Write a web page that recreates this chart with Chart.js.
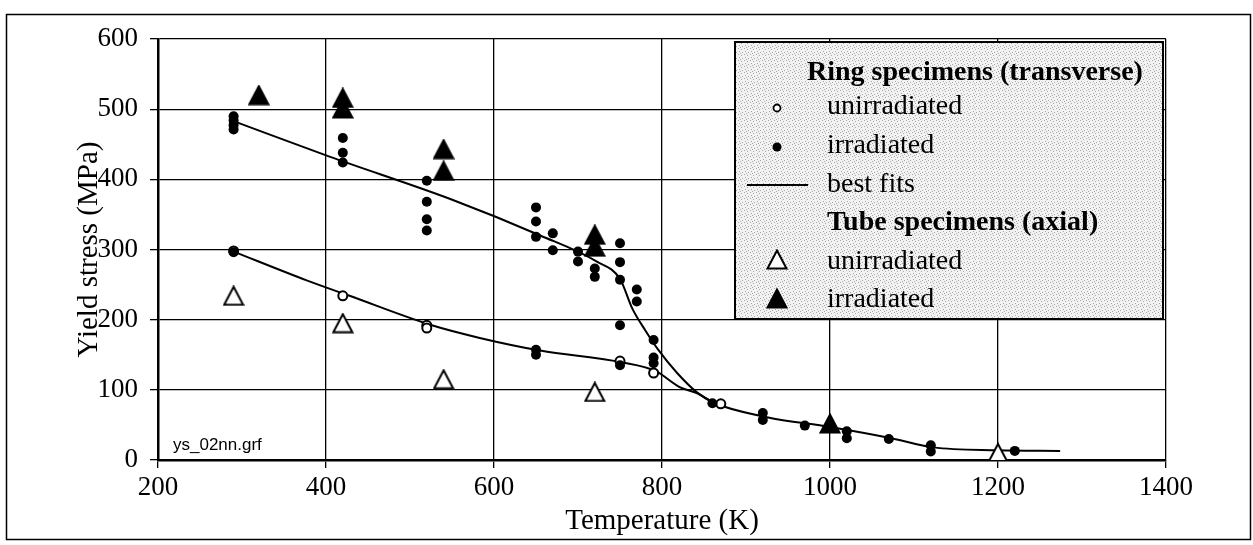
<!DOCTYPE html>
<html>
<head>
<meta charset="utf-8">
<script src="https://cdn.jsdelivr.net/npm/chart.js@4"></script>
<style>
    body { margin: 0; background: #fff; }
    canvas { display: block; }
</style>
</head>
<body>
<canvas id="myChart" width="1253" height="545"></canvas>
<script>
// axis ticks
const xTicks = [200, 400, 600, 800, 1000, 1200, 1400];
const yTicks = [0, 100, 200, 300, 400, 500, 600];

// Ring specimens (transverse), irradiated - filled circles
const ringIrrT = [290, 290, 290, 290, 290, 420, 420, 420, 520, 520, 520, 520,
    650, 650, 650, 650, 650, 670, 670, 700, 700, 720, 720,
    750, 750, 750, 750, 750, 770, 770, 790, 790, 790,
    860, 920, 920, 970, 1020, 1020, 1070, 1120, 1120, 1220];
const ringIrrS = [490, 484, 477, 471, 296, 459, 438, 424, 398, 368, 343, 327,
    360, 340, 318, 157, 150, 323, 299, 297, 283, 273, 261,
    309, 282, 257, 192, 135, 243, 226, 171, 146, 138,
    81, 67, 57, 49, 41, 31, 30, 21, 12, 13];

// Ring specimens, unirradiated - open circles
const ringUnirrT = [290, 420, 520, 520, 750, 790, 870];
const ringUnirrS = [298, 234, 192, 188, 141, 124, 80];

// Tube specimens (axial)
const tubeUnirrT = [290, 420, 540, 720, 1200];
const tubeUnirrS = [234, 195, 115, 97, 10];
const tubeIrrT = [320, 420, 420, 540, 540, 720, 720, 1000];
const tubeIrrS = [520, 516, 501, 443, 412, 321, 304, 52];

// best fits
const fitIrrT = [290, 405, 548, 655, 722, 750, 765, 780, 795, 818, 842, 861, 925, 1000, 1073, 1123, 1200, 1274];
const fitIrrS = [483, 432, 372, 320, 283, 258, 215, 185, 158, 124, 96, 82, 61, 47, 31, 18, 14, 13];
const fitUnirrT = [290, 377, 428, 526, 583, 655, 753, 792, 821, 842, 861];
const fitUnirrS = [297, 256, 234, 192, 174, 156, 139, 127, 104, 95, 82];

const SERIF = "'Liberation Serif', 'Times New Roman', serif";

function toPoints(xs, ys) {
    return xs.map((x, i) => ({ x: x, y: ys[i] }));
}

function makeTriangle(filled) {
    const c = document.createElement('canvas');
    c.width = 22;
    c.height = 21;
    const g = c.getContext('2d');
    g.beginPath();
    g.moveTo(11, 1.5);
    g.lineTo(20.5, 19.5);
    g.lineTo(1.5, 19.5);
    g.closePath();
    g.fillStyle = filled ? '#000' : '#fff';
    g.fill();
    g.lineWidth = 2;
    g.strokeStyle = '#000';
    g.stroke();
    return c;
}

function makeStipple() {
    const c = document.createElement('canvas');
    c.width = 6;
    c.height = 6;
    const g = c.getContext('2d');
    g.fillStyle = '#f2f2f2';
    g.fillRect(0, 0, 6, 6);
    g.fillStyle = '#a8a8a8';
    [[0, 0], [3, 1], [1, 3], [4, 4], [2, 5]].forEach(p => g.fillRect(p[0], p[1], 1, 1));
    return c;
}

const triFilled = makeTriangle(true);
const triOpen = makeTriangle(false);

const decor = {
    id: 'decor',
    beforeDraw(chart) {
        const ctx = chart.ctx;
        ctx.save();
        ctx.fillStyle = '#fff';
        ctx.fillRect(0, 0, chart.width, chart.height);
        ctx.restore();
    },
    afterDraw(chart) {
        const ctx = chart.ctx;
        ctx.save();
        // outer frame
        ctx.strokeStyle = '#000';
        ctx.lineWidth = 1.5;
        ctx.strokeRect(6.5, 14.5, 1244, 525);

        // file name
        ctx.fillStyle = '#000';
        ctx.font = "17px 'Liberation Sans', Arial, sans-serif";
        ctx.textBaseline = 'middle';
        ctx.textAlign = 'left';
        ctx.fillText('ys_02nn.grf', 173, 445);

        // legend box
        const bx = 735, by = 42, bw = 428, bh = 277;
        ctx.fillStyle = ctx.createPattern(makeStipple(), 'repeat');
        ctx.fillRect(bx, by, bw, bh);
        ctx.lineWidth = 2;
        ctx.strokeStyle = '#000';
        ctx.strokeRect(bx, by, bw, bh);

        const mx = 777, tx = 827;
        ctx.fillStyle = '#000';
        ctx.font = 'bold 28px ' + SERIF;
        ctx.fillText('Ring specimens (transverse)', 807, 73);
        ctx.fillText('Tube specimens (axial)', tx, 223);
        ctx.font = '28px ' + SERIF;
        ctx.fillText('unirradiated', tx, 107);
        ctx.fillText('irradiated', tx, 146);
        ctx.fillText('best fits', tx, 185);
        ctx.fillText('unirradiated', tx, 262);
        ctx.fillText('irradiated', tx, 300);

        ctx.beginPath();
        ctx.arc(mx, 108, 3.5, 0, Math.PI * 2);
        ctx.fillStyle = '#fff';
        ctx.fill();
        ctx.lineWidth = 1.8;
        ctx.stroke();
        ctx.beginPath();
        ctx.arc(mx, 147, 4.5, 0, Math.PI * 2);
        ctx.fillStyle = '#000';
        ctx.fill();
        ctx.beginPath();
        ctx.moveTo(747, 185);
        ctx.lineTo(808, 185);
        ctx.lineWidth = 2;
        ctx.stroke();
        ctx.drawImage(triOpen, mx - 11, 259 - 10);
        ctx.drawImage(triFilled, mx - 11, 298 - 10);
        ctx.restore();
    }
};

function ChartYield() {
    const ctx = document.getElementById('myChart');
    const data = {
        datasets: [{
            label: 'irradiated fit',
            data: toPoints(fitIrrT, fitIrrS),
            showLine: true,
            borderColor: '#000',
            borderWidth: 2,
            pointRadius: 0,
            cubicInterpolationMode: 'monotone',
            order: 6
        }, {
            label: 'unirradiated fit',
            data: toPoints(fitUnirrT, fitUnirrS),
            showLine: true,
            borderColor: '#000',
            borderWidth: 2,
            pointRadius: 0,
            cubicInterpolationMode: 'monotone',
            order: 5
        }, {
            label: 'Tube unirradiated',
            data: toPoints(tubeUnirrT, tubeUnirrS),
            pointStyle: triOpen,
            order: 4
        }, {
            label: 'Ring unirradiated',
            data: toPoints(ringUnirrT, ringUnirrS),
            pointRadius: 4.5,
            pointBorderWidth: 2,
            pointBackgroundColor: '#fff',
            pointBorderColor: '#000',
            order: 3
        }, {
            label: 'Ring irradiated',
            data: toPoints(ringIrrT, ringIrrS),
            pointRadius: 5,
            pointBorderWidth: 0,
            pointBackgroundColor: '#000',
            pointBorderColor: '#000',
            order: 2
        }, {
            label: 'Tube irradiated',
            data: toPoints(tubeIrrT, tubeIrrS),
            pointStyle: triFilled,
            order: 1
        }]
    };
    const config = {
        type: 'scatter',
        data: data,
        options: {
            responsive: false,
            animation: false,
            devicePixelRatio: 1,
            layout: {
                padding: { left: 0, top: 39, right: 87, bottom: 0 }
            },
            plugins: {
                legend: { display: false },
                tooltip: { enabled: false }
            },
            scales: {
                x: {
                    type: 'linear',
                    min: xTicks[0],
                    max: xTicks[xTicks.length - 1],
                    afterFit: function (scale) { scale.height = 85; },
                    ticks: {
                        stepSize: xTicks[1] - xTicks[0],
                        color: '#000',
                        padding: 4,
                        maxRotation: 0,
                        callback: function (value) { return String(value); },
                        font: { family: SERIF, size: 27 }
                    },
                    grid: { color: '#000', lineWidth: 1.3, tickLength: 8 },
                    border: { color: '#000', width: 2.5 },
                    title: {
                        display: true,
                        text: 'Temperature (K)',
                        color: '#000',
                        padding: { top: 0, bottom: 6 },
                        font: { family: SERIF, size: 29 }
                    }
                },
                y: {
                    min: yTicks[0],
                    max: yTicks[yTicks.length - 1],
                    afterFit: function (scale) { scale.width = 158; },
                    ticks: {
                        stepSize: yTicks[1] - yTicks[0],
                        color: '#000',
                        padding: 12,
                        callback: function (value) { return String(value); },
                        font: { family: SERIF, size: 27 }
                    },
                    grid: { color: '#000', lineWidth: 1.3, tickLength: 8 },
                    border: { color: '#000', width: 2.5 },
                    title: {
                        display: true,
                        text: 'Yield stress (MPa)',
                        color: '#000',
                        padding: { top: 72, bottom: 0 },
                        font: { family: SERIF, size: 29 }
                    }
                }
            }
        },
        plugins: [decor]
    };
    new Chart(ctx, config);
}

ChartYield();
</script>
</body>
</html>
